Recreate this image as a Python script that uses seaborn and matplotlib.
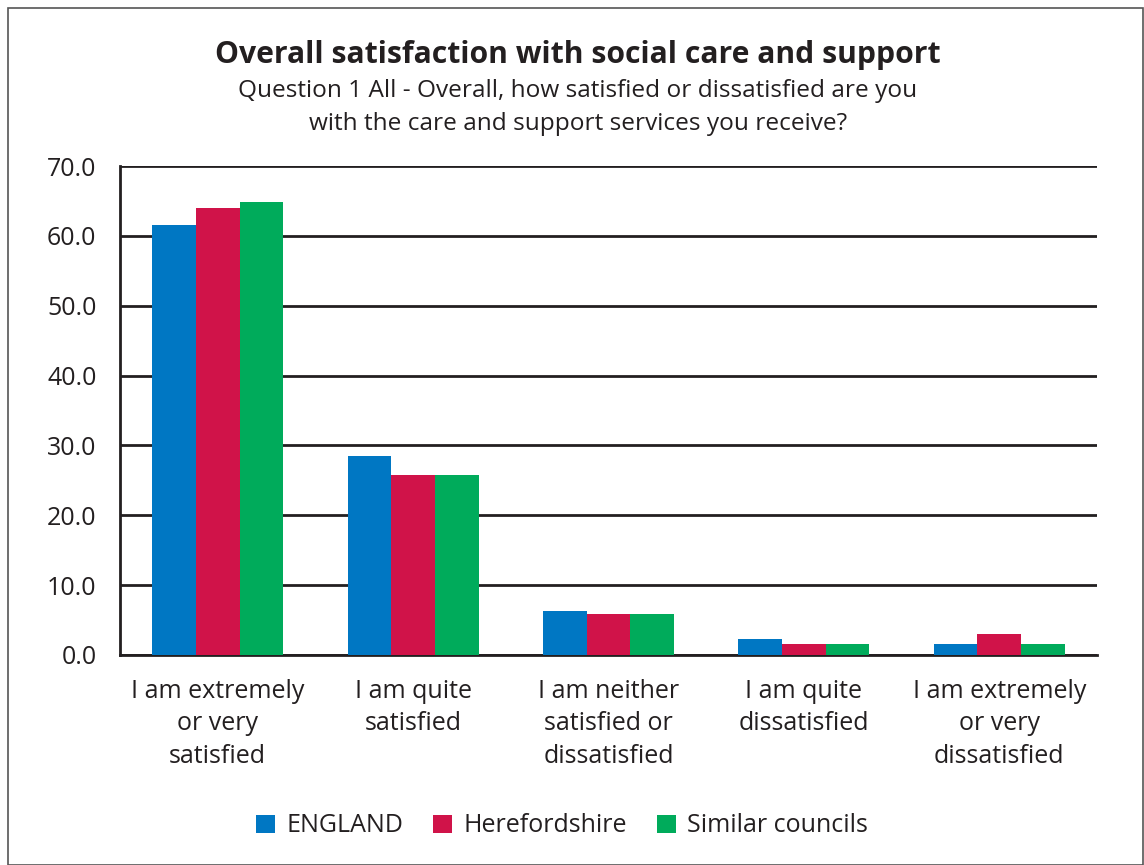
import pandas as pd
import numpy as np
import matplotlib.pyplot as plt
import matplotlib.patches as mpatches
import seaborn as sns

#%% data

categories = ['I am extremely\nor very\nsatisfied', 'I am quite\nsatisfied',
              'I am neither\nsatisfied or\ndissatisfied', 'I am quite\ndissatisfied',
              'I am extremely\nor very\ndissatisfied']
series = ['ENGLAND', 'Herefordshire', 'Similar councils']
england = [61.5, 28.5, 6.3, 2.3, 1.6]
herefordshire = [64.0, 25.7, 5.9, 1.6, 3.0]
similar = [64.8, 25.7, 5.9, 1.6, 1.6]
colors = ['#0077c3', '#d01349', '#00ab5b']

df = pd.DataFrame({'category': categories * 3,
                   'value': england + herefordshire + similar,
                   'series': np.repeat(series, len(categories))})

#%% plot

sns.set_style("white")
plt.rcParams['font.family'] = ['Open Sans', 'DejaVu Sans']

fig = plt.figure(figsize=(11.44, 8.65), dpi=100)
ax = fig.add_axes([120/1144, 1-655/865, (1097-120)/1144, (655-166)/865])

sns.barplot(data=df, x='category', y='value', hue='series', palette=colors,
            width=0.67, saturation=1, linewidth=0, edgecolor='none', ax=ax, zorder=3)

ax.set_ylim(0, 70)
ax.set_yticks(np.arange(0, 71, 10))
ax.set_yticklabels([f'{v:.1f}' for v in np.arange(0, 71, 10)], fontsize=18)
ax.yaxis.grid(True, color='#231f20', linewidth=2, zorder=0)
ax.set_axisbelow(True)
ax.tick_params(axis='y', length=10, width=2, color='#231f20', pad=7, labelcolor='#231f20')

ax.set_xlim(-0.5, 4.5)
ax.set_xticks(range(len(categories)))
ax.set_xticklabels(categories, fontsize=18, linespacing=1.4, color='#231f20')
ax.tick_params(axis='x', which='major', length=0, pad=17)
ax.set_xticks(np.arange(-0.5, 5, 1), minor=True)
ax.tick_params(axis='x', which='minor', length=7, width=2, color='#231f20')

for s in ['top', 'right']:
    ax.spines[s].set_visible(False)
ax.spines['left'].set_linewidth(2)
ax.spines['left'].set_color('#231f20')
ax.spines['bottom'].set_linewidth(2)
ax.spines['bottom'].set_color('#231f20')
ax.set_xlabel('')
ax.set_ylabel('')

leg = ax.legend(loc='center', bbox_to_anchor=(562/1144, 1-826/865), bbox_transform=fig.transFigure,
                ncol=3, frameon=False, fontsize=18, handlelength=0.75, handleheight=0.75,
                handletextpad=0.45, columnspacing=1.2)
for t in leg.get_texts():
    t.set_color('#231f20')

fig.text(578/1144, 1-55/865, 'Overall satisfaction with social care and support',
         ha='center', va='center', fontsize=21.7, fontweight='bold', color='#231f20')
fig.text(578/1144, 1-91/865, 'Question 1 All - Overall, how satisfied or dissatisfied are you',
         ha='center', va='center', fontsize=17.6, color='#231f20')
fig.text(578/1144, 1-124/865, 'with the care and support services you receive?',
         ha='center', va='center', fontsize=17.6, color='#231f20')

fig.patches.append(mpatches.Rectangle((8/1144, 0), 1 - 9/1144, 1 - 8/865, transform=fig.transFigure,
                                      fill=False, edgecolor='#555555', linewidth=1.2))

fig.savefig('out.png', dpi=100)
